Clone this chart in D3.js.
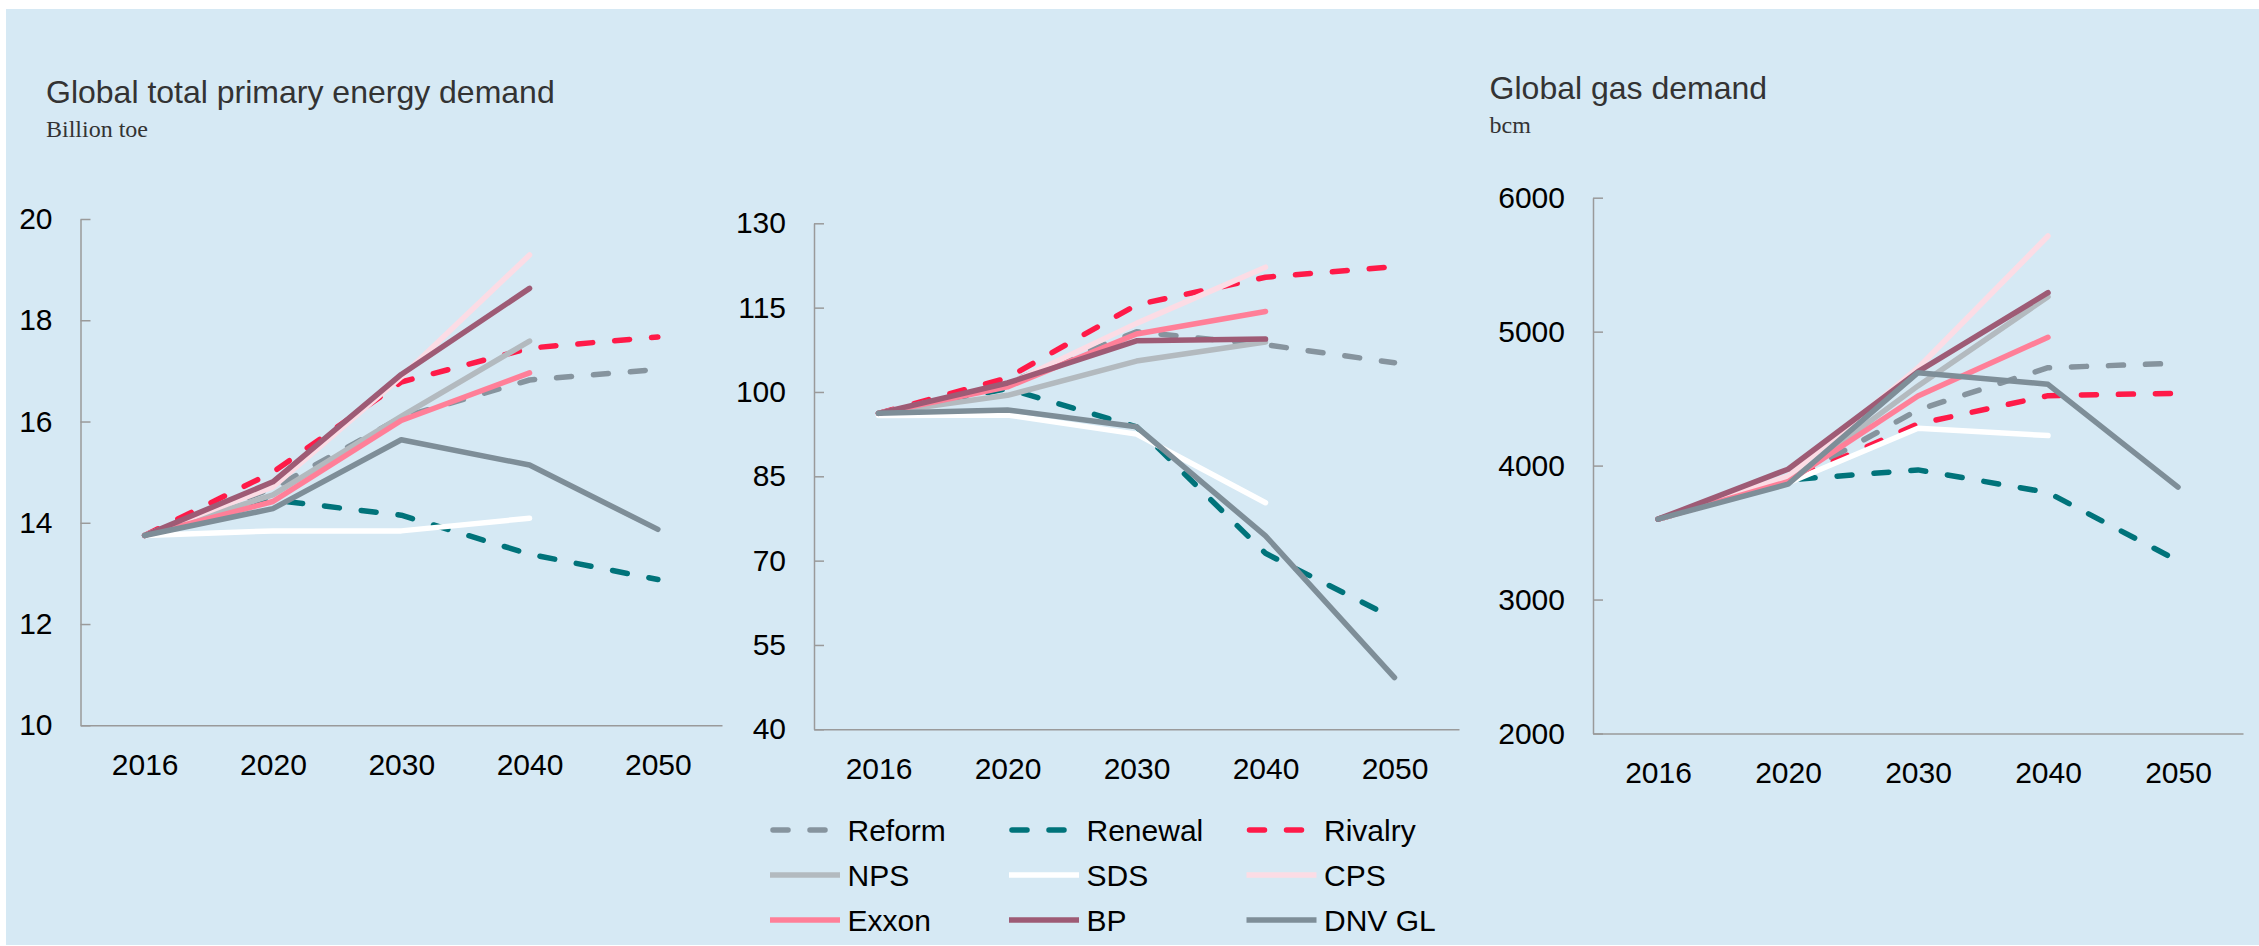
<!DOCTYPE html>
<html>
<head>
<meta charset="utf-8">
<script src="https://cdn.jsdelivr.net/npm/d3@7"></script>
<style>
  body { margin: 0; background: #fff; }
  svg { display: block; }
</style>
</head>
<body>
<script>
// categories and series
const years = ["2016", "2020", "2030", "2040", "2050"];
const scenarios = ["Reform", "Renewal", "Rivalry", "NPS", "SDS", "CPS", "Exxon", "BP", "DNV GL"];
const lineColors = ["#86949e", "#00737a", "#ff1a48", "#b3babf", "#ffffff", "#fcdce5", "#ff7f98", "#9e5b75", "#7e8e98"];
const isDashed = [true, true, true, false, false, false, false, false, false];

// Global total primary energy demand (billion toe), one row per scenario
const energyValues = [
  [13.75, 14.68, 16.08, 16.82, 17.03],  // Reform
  [13.75, 14.45, 14.15, 13.38, 12.88],  // Renewal
  [13.75, 15.0, 16.78, 17.45, 17.67],   // Rivalry
  [13.75, 14.55, 16.1, 17.59],          // NPS
  [13.75, 13.84, 13.84, 14.09],         // SDS
  [13.75, 14.71, 16.88, 19.29],         // CPS
  [13.75, 14.42, 16.02, 16.96],         // Exxon
  [13.75, 14.81, 16.93, 18.63],         // BP
  [13.75, 14.28, 15.64, 15.14, 13.87]   // DNV GL
];
const energyTicks = [10, 12, 14, 16, 18, 20];

// middle panel (index), one row per scenario
const middleValues = [
  [96.2, 101.6, 110.7, 108.4, 105.2],
  [96.2, 100.6, 93.8, 71.3, 59.7],
  [96.2, 102.5, 115.5, 120.4, 122.3],
  [96.2, 99.4, 105.5, 108.9],
  [95.8, 95.9, 92.5, 80.3],
  [96.2, 101.3, 112.2, 122.2],
  [96.2, 100.9, 110.3, 114.3],
  [96.2, 101.6, 109.1, 109.4],
  [96.2, 96.8, 93.8, 74.4, 49.2]
];
const middleTicks = [40, 55, 70, 85, 100, 115, 130];

// Global gas demand (bcm), one row per scenario
const gasValues = [
  [3600, 3880, 4416, 4731, 4764],
  [3600, 3893, 3968, 3799, 3289],
  [3600, 3880, 4311, 4522, 4540],
  [3600, 3880, 4595, 5260],
  [3600, 3870, 4279, 4224],
  [3600, 3920, 4729, 5714],
  [3600, 3880, 4520, 4958],
  [3600, 3973, 4701, 5291],
  [3600, 3861, 4694, 4607, 3839]
];
const gasTicks = [2000, 3000, 4000, 5000, 6000];

const W = 2259, H = 946;
const sansFont = "'Liberation Sans', Arial, sans-serif";
const serifFont = "'Liberation Serif', 'Times New Roman', serif";
const axisColor = "#9a9a9a";

const svg = d3.select("body").append("svg")
    .attr("width", W)
    .attr("height", H);

svg.append("rect")
    .attr("x", 6).attr("y", 9)
    .attr("width", W - 6).attr("height", H - 10)
    .attr("fill", "#d6e9f4");

function drawPanel(p) {
    const x = d3.scalePoint().domain(years).range([p.left, p.right]).padding(0.5);
    const y = d3.scaleLinear()
        .domain([p.ticks[0], p.ticks[p.ticks.length - 1]])
        .range([p.bottom, p.top]);

    const g = svg.append("g");

    // y axis, ticks pointing inward
    g.append("g")
        .attr("transform", `translate(${p.left},0)`)
        .call(d3.axisLeft(y).tickValues(p.ticks).tickFormat(d3.format("d"))
            .tickSizeInner(-10).tickSizeOuter(0).tickPadding(28))
        .attr("font-size", 30)
        .attr("font-family", sansFont)
        .call(a => {
            a.select(".domain").attr("stroke", axisColor).attr("stroke-width", 1.5);
            a.selectAll(".tick line").attr("stroke", axisColor).attr("stroke-width", 1.5);
            a.selectAll(".tick text").attr("fill", "#000");
        });

    // x axis
    g.append("g")
        .attr("transform", `translate(0,${p.bottom})`)
        .call(d3.axisBottom(x).tickSize(0).tickSizeOuter(0).tickPadding(28))
        .attr("font-size", 30)
        .attr("font-family", sansFont)
        .call(a => {
            a.select(".domain").attr("stroke", axisColor).attr("stroke-width", 1.5);
            a.selectAll(".tick text").attr("fill", "#000");
        });

    const line = d3.line()
        .x((d, i) => x(years[i]))
        .y(d => y(d));

    p.values.forEach((vals, k) => {
        g.append("path")
            .attr("d", line(vals))
            .attr("fill", "none")
            .attr("stroke", lineColors[k])
            .attr("stroke-width", 5.5)
            .attr("stroke-linecap", "round")
            .attr("stroke-linejoin", "round")
            .attr("stroke-dasharray", isDashed[k] ? "15 22" : null);
    });

    if (p.title) {
        g.append("text")
            .attr("x", p.titleX).attr("y", p.titleY)
            .attr("font-family", sansFont)
            .attr("font-size", 32)
            .attr("fill", "#333")
            .text(p.title);
        g.append("text")
            .attr("x", p.titleX).attr("y", p.titleY + 34)
            .attr("font-family", serifFont)
            .attr("font-size", 24)
            .attr("fill", "#333")
            .text(p.unit);
    }
}

drawPanel({values: energyValues, ticks: energyTicks, left: 80.5, right: 722, top: 219, bottom: 725.3,
    title: "Global total primary energy demand", unit: "Billion toe", titleX: 46, titleY: 103});
drawPanel({values: middleValues, ticks: middleTicks, left: 814, right: 1459, top: 223.3, bottom: 729.3});
drawPanel({values: gasValues, ticks: gasTicks, left: 1593, right: 2243, top: 197.7, bottom: 733.5,
    title: "Global gas demand", unit: "bcm", titleX: 1489.6, titleY: 99});

// legend, 3 columns x 3 rows
const legendCols = [770, 1009, 1246.5];
const legendRows = [830, 875, 920];
const legend = svg.append("g");
scenarios.forEach((name, k) => {
    const lx = legendCols[k % 3];
    const ly = legendRows[Math.floor(k / 3)];
    legend.append("line")
        .attr("x1", isDashed[k] ? lx + 3 : lx).attr("x2", lx + 70)
        .attr("y1", ly).attr("y2", ly)
        .attr("stroke", lineColors[k])
        .attr("stroke-width", 5.5)
        .attr("stroke-linecap", isDashed[k] ? "round" : "butt")
        .attr("stroke-dasharray", isDashed[k] ? "15 22" : null);
    legend.append("text")
        .attr("x", lx + 77.5).attr("y", ly)
        .attr("dy", "0.35em")
        .attr("font-family", sansFont)
        .attr("font-size", 30)
        .attr("fill", "#000")
        .text(name);
});
</script>
</body>
</html>
